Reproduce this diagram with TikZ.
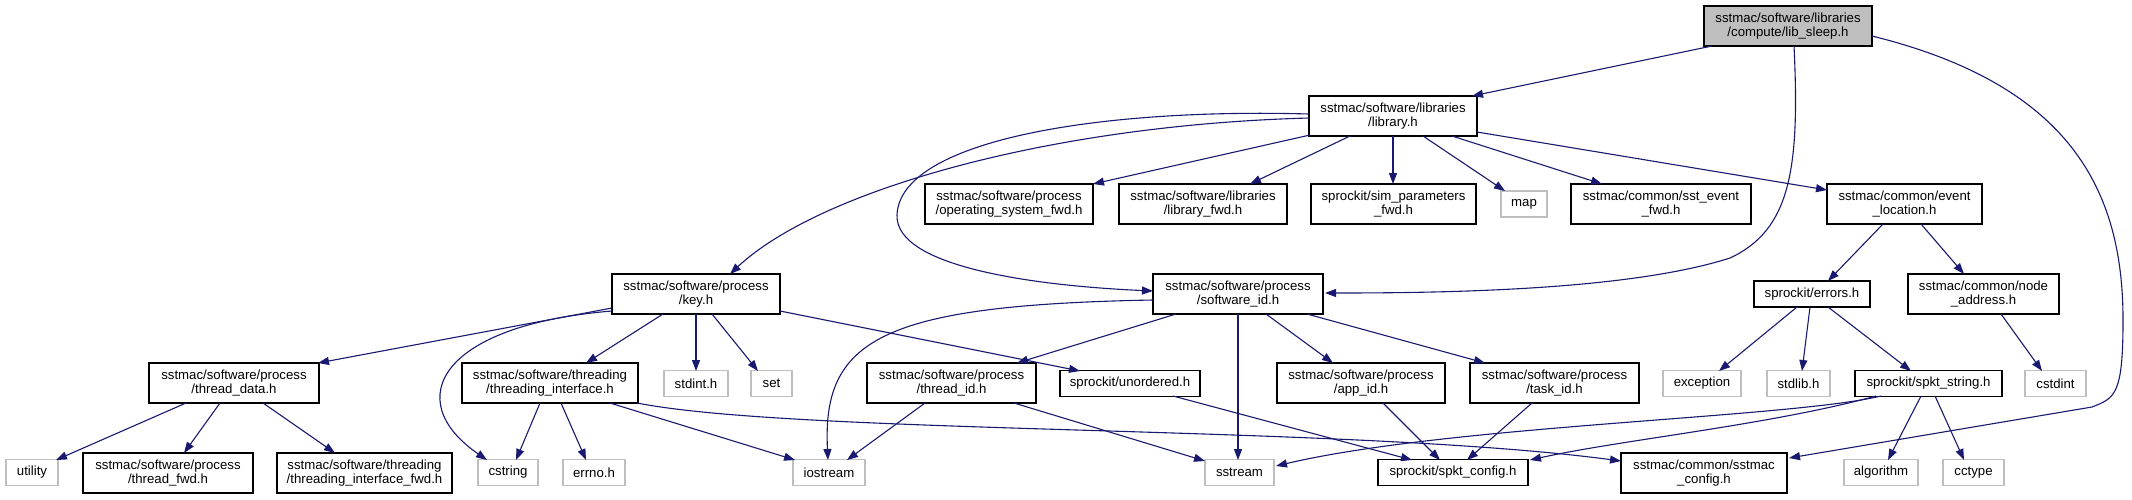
\documentclass[tikz,border=0pt]{standalone}
\usepackage{fontspec}
\newfontfamily\nodefont{Liberation Sans}
\usetikzlibrary{arrows.meta}
\definecolor{edgeblue}{HTML}{191970}
\definecolor{lgray}{HTML}{BFBFBF}
\definecolor{fillgray}{HTML}{BFBFBF}
\begin{document}
\begin{tikzpicture}[x=1pt,y=-1pt,
  nd/.style={draw=black, fill=white, line width=1.2pt, inner sep=0pt, align=center,
    font={\nodefont\fontsize{13.2pt}{14.5pt}\selectfont}},
  sys/.style={nd, draw=lgray},
  two/.style={minimum height=40pt},
  one/.style={minimum height=26pt},
  e/.style={draw=edgeblue, line width=1.1pt, -{Triangle[length=11pt,width=8pt]}}]
\fill[white] (0,0) rectangle (2132,499);
\useasboundingbox (0,0) rectangle (2132,499);
% nodes
\node[nd, two, fill=fillgray, minimum width=168pt] (libsleep) at (1788,26) {sstmac/software/libraries\\/compute/lib\_sleep.h};
\node[nd, two, minimum width=168pt] (library) at (1393,116) {sstmac/software/libraries\\/library.h};
\node[nd, two, minimum width=168pt] (osfwd) at (1009,204) {sstmac/software/process\\/operating\_system\_fwd.h};
\node[nd, two, minimum width=168pt] (libfwd) at (1203,204) {sstmac/software/libraries\\/library\_fwd.h};
\node[nd, two, minimum width=165pt] (simparam) at (1393.5,204) {sprockit/sim\_parameters\\\_fwd.h};
\node[sys, one, minimum width=46pt] (map) at (1524,204) {map};
\node[nd, two, minimum width=180pt] (sstevent) at (1661,204) {sstmac/common/sst\_event\\\_fwd.h};
\node[nd, two, minimum width=155pt] (eventloc) at (1904.5,204) {sstmac/common/event\\\_location.h};
\node[nd, two, minimum width=168pt] (key) at (696,294) {sstmac/software/process\\/key.h};
\node[nd, two, minimum width=170pt] (swid) at (1238,294) {sstmac/software/process\\/software\_id.h};
\node[nd, one, minimum width=116pt] (errors) at (1812,294) {sprockit/errors.h};
\node[nd, two, minimum width=151pt] (nodeaddr) at (1983.5,294) {sstmac/common/node\\\_address.h};
\node[nd, two, minimum width=170pt] (threaddata) at (234,383) {sstmac/software/process\\/thread\_data.h};
\node[nd, two, minimum width=176pt] (threadingif) at (550,383) {sstmac/software/threading\\/threading\_interface.h};
\node[sys, one, minimum width=64pt] (stdint) at (696,383.5) {stdint.h};
\node[sys, one, minimum width=41pt] (set) at (771.5,383.5) {set};
\node[nd, two, minimum width=169pt] (threadid) at (951.5,383) {sstmac/software/process\\/thread\_id.h};
\node[nd, one, minimum width=140pt] (unordered) at (1130,383.5) {sprockit/unordered.h};
\node[nd, two, minimum width=168pt] (appid) at (1361,383) {sstmac/software/process\\/app\_id.h};
\node[nd, two, minimum width=169pt] (taskid) at (1554.5,383) {sstmac/software/process\\/task\_id.h};
\node[sys, one, minimum width=78pt] (exception) at (1702,383.5) {exception};
\node[sys, one, minimum width=63pt] (stdlib) at (1798.5,383.5) {stdlib.h};
\node[nd, one, minimum width=147pt] (spktstring) at (1928.5,383.5) {sprockit/spkt\_string.h};
\node[sys, one, minimum width=61pt] (cstdint) at (2055.5,383.5) {cstdint};
\node[sys, one, minimum width=52pt] (utility) at (32,472.5) {utility};
\node[nd, two, minimum width=170pt] (threadfwd) at (168,473) {sstmac/software/process\\/thread\_fwd.h};
\node[nd, two, minimum width=175pt] (tifwd) at (364.5,473) {sstmac/software/threading\\/threading\_interface\_fwd.h};
\node[sys, one, minimum width=60pt] (cstring) at (508,472.5) {cstring};
\node[sys, one, minimum width=62pt] (errno) at (594,472.5) {errno.h};
\node[sys, one, minimum width=72pt] (iostream) at (829,472.5) {iostream};
\node[sys, one, minimum width=69pt] (sstream) at (1239.5,472.5) {sstream};
\node[nd, one, minimum width=150pt] (spktconfig) at (1453,472.5) {sprockit/spkt\_config.h};
\node[nd, two, minimum width=166pt] (sstmacconfig) at (1704,473) {sstmac/common/sstmac\\\_config.h};
\node[sys, one, minimum width=74pt] (algorithm) at (1881,472.5) {algorithm};
\node[sys, one, minimum width=61pt] (cctype) at (1973.5,472.5) {cctype};
% edges from lib_sleep
\draw[e] ([shift={(-76,20)}]libsleep.center) -- ([shift={(79,-20)}]library.center);
\draw[e] ([shift={(6,20)}]libsleep.center) .. controls (1800,170) and (1790,230) .. (1730,258) .. controls (1630,290) and (1450,293) .. ([shift={(87,-1)}]swid.center);
\draw[e] ([shift={(84,10)}]libsleep.center) .. controls (2070,85) and (2123,190) .. (2123,320) .. controls (2123,395) and (2115,398) .. (2092,407) -- ([shift={(85,-15)}]sstmacconfig.center);
% edges from library
\draw[e] ([shift={(-83,19)}]library.center) -- ([shift={(84,-20)}]osfwd.center);
\draw[e] ([shift={(-43,20)}]library.center) -- ([shift={(47,-20)}]libfwd.center);
\draw[e] ([shift={(0,20)}]library.center) -- ([shift={(-0.5,-20)}]simparam.center);
\draw[e] ([shift={(30,20)}]library.center) -- ([shift={(-19,-13)}]map.center);
\draw[e] ([shift={(59,20)}]library.center) -- ([shift={(-59,-20)}]sstevent.center);
\draw[e] ([shift={(84,16)}]library.center) -- ([shift={(-77.5,-14)}]eventloc.center);
\draw[e] ([shift={(-84,2)}]library.center) .. controls (1050,125) and (820,190) .. ([shift={(34,-20)}]key.center);
\draw[e] ([shift={(-84,-2)}]library.center) .. controls (1100,108) and (900,140) .. (897,215) .. controls (895,268) and (1040,286) .. ([shift={(-85,-3)}]swid.center);
% edges from key
\draw[e] ([shift={(-84,14)}]key.center) -- ([shift={(84,-20)}]threaddata.center);
\draw[e] ([shift={(-84,17)}]key.center) .. controls (440,325) and (400,400) .. ([shift={(-21,-12.5)}]cstring.center);
\draw[e] ([shift={(-33,20)}]key.center) -- ([shift={(36,-20)}]threadingif.center);
\draw[e] ([shift={(0,20)}]key.center) -- ([shift={(0,-12.5)}]stdint.center);
\draw[e] ([shift={(16,20)}]key.center) -- ([shift={(-13.5,-12.5)}]set.center);
\draw[e] ([shift={(84,17)}]key.center) -- ([shift={(-50,-12.5)}]unordered.center);
% edges from software_id
\draw[e] ([shift={(-85,6)}]swid.center) .. controls (880,305) and (822,340) .. ([shift={(-1,-12.5)}]iostream.center);
\draw[e] ([shift={(-62,20)}]swid.center) -- ([shift={(65.5,-20)}]threadid.center);
\draw[e] ([shift={(0,20)}]swid.center) -- ([shift={(-1.5,-12.5)}]sstream.center);
\draw[e] ([shift={(28,20)}]swid.center) -- ([shift={(-28,-20)}]appid.center);
\draw[e] ([shift={(69,20)}]swid.center) -- ([shift={(-69.5,-20)}]taskid.center);
% event_location, errors, node_address
\draw[e] ([shift={(-21.5,20)}]eventloc.center) -- ([shift={(16,-13)}]errors.center);
\draw[e] ([shift={(16.5,20)}]eventloc.center) -- ([shift={(-19.5,-20)}]nodeaddr.center);
\draw[e] ([shift={(-15,13)}]errors.center) -- ([shift={(17,-12.5)}]exception.center);
\draw[e] ([shift={(-2,13)}]errors.center) -- ([shift={(3.5,-12.5)}]stdlib.center);
\draw[e] ([shift={(16,13)}]errors.center) -- ([shift={(-17.5,-12.5)}]spktstring.center);
\draw[e] ([shift={(17.5,20)}]nodeaddr.center) -- ([shift={(-13.5,-12.5)}]cstdint.center);
% spkt_string
\draw[e] ([shift={(-47.5,12.5)}]spktstring.center) .. controls (1790,418) and (1450,425) .. ([shift={(36.5,-6.5)}]sstream.center);
\draw[e] ([shift={(-52.5,12.5)}]spktstring.center) .. controls (1770,425) and (1620,440) .. ([shift={(77,-12.5)}]spktconfig.center);
\draw[e] ([shift={(-7.5,12.5)}]spktstring.center) -- ([shift={(7,-12.5)}]algorithm.center);
\draw[e] ([shift={(6.5,12.5)}]spktstring.center) -- ([shift={(-9.5,-12.5)}]cctype.center);
% threading_interface
\draw[e] ([shift={(-10,20)}]threadingif.center) -- ([shift={(8,-12.5)}]cstring.center);
\draw[e] ([shift={(11,20)}]threadingif.center) -- ([shift={(-8,-12.5)}]errno.center);
\draw[e] ([shift={(60,20)}]threadingif.center) -- ([shift={(-34,-12.5)}]iostream.center);
\draw[e] ([shift={(87,20)}]threadingif.center) .. controls (800,435) and (1350,425) .. ([shift={(-83,-12)}]sstmacconfig.center);
% thread_data
\draw[e] ([shift={(-48,20)}]threaddata.center) -- ([shift={(24,-12.5)}]utility.center);
\draw[e] ([shift={(-14,20)}]threaddata.center) -- ([shift={(16,-20)}]threadfwd.center);
\draw[e] ([shift={(29,20)}]threaddata.center) -- ([shift={(-29.5,-20)}]tifwd.center);
% thread_id, unordered, app_id, task_id
\draw[e] ([shift={(-26.5,20)}]threadid.center) -- ([shift={(18,-12.5)}]iostream.center);
\draw[e] ([shift={(62.5,20)}]threadid.center) -- ([shift={(-34.5,-11.5)}]sstream.center);
\draw[e] ([shift={(43,12.5)}]unordered.center) -- ([shift={(-41,-12.5)}]spktconfig.center);
\draw[e] ([shift={(22,20)}]appid.center) -- ([shift={(-13,-12.5)}]spktconfig.center);
\draw[e] ([shift={(-22.5,20)}]taskid.center) -- ([shift={(14,-12.5)}]spktconfig.center);
\end{tikzpicture}
\end{document}
